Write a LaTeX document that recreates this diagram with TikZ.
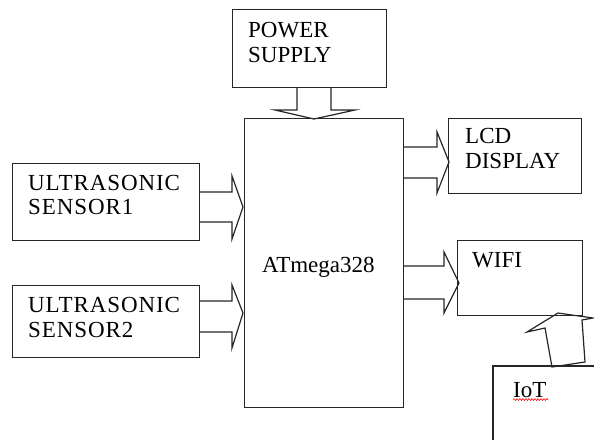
\documentclass[tikz,border=0pt]{standalone}
\usepackage{fontspec}
\setmainfont{Liberation Serif}
\usetikzlibrary{decorations.pathmorphing}
\begin{document}
\begin{tikzpicture}[x=1pt,y=-1pt,
  box/.style={draw=black!85,line width=1.2pt,inner sep=0pt,anchor=north west},
  lbl/.style={anchor=base west,inner sep=0pt,font=\fontsize{23}{27}\selectfont,align=left},
  wide/.style={font=\fontsize{23}{27}\selectfont\addfontfeature{LetterSpace=4}},
  barrow/.style={draw=black!85,line width=1.2pt,line join=miter}]
\useasboundingbox (0,0) rectangle (594,439);
% boxes
\node[box,minimum width=154pt,minimum height=78pt] (ps) at (232,9) {};
\node[box,minimum width=159pt,minimum height=289pt] (mcu) at (244,118) {};
\node[box,minimum width=133pt,minimum height=75pt] (lcd) at (448,118) {};
\node[box,minimum width=125pt,minimum height=75pt] (wifi) at (457,240) {};
\node[box,minimum width=187pt,minimum height=77pt] (us1) at (12,163) {};
\node[box,minimum width=187pt,minimum height=72pt] (us2) at (12,285) {};
\draw[barrow] (493,440) -- (493,366) -- (595,366);
\coordinate (iot) at (493,366);
% labels
\node[lbl] (tps) at (248,37) {POWER};
\node[lbl] (tps2) at (248,62) {SUPPLY};
\node[lbl] (tmcu) at (262,272) {ATmega328};
\node[lbl] (tlcd) at (465,143) {LCD};
\node[lbl] (tlcd2) at (465,168) {DISPLAY};
\node[lbl] (twifi) at (472,267) {WIFI};
\node[lbl,wide] (tus1) at (28,190) {ULTRASONIC};
\node[lbl,wide] (tus1b) at (28,214) {SENSOR1};
\node[lbl,wide] (tus2) at (28,312) {ULTRASONIC};
\node[lbl,wide] (tus2b) at (28,337) {SENSOR2};
\node[lbl] (tiot) at (513,397) {IoT};
\draw[red,line width=0.6pt,decorate,decoration={snake,amplitude=0.9pt,segment length=3pt}] (tiot.base west)++(0,2.5) -- ++(35,0);
% block arrows
\draw[barrow] (297,87) -- (297,110) -- (275,110) -- (314,119) -- (355,110) -- (331,110) -- (331,87);
\draw[barrow] (403,147) -- (437,147) -- (437,132) -- (449,162) -- (437,193) -- (437,178) -- (403,178);
\draw[barrow] (403,266) -- (444,266) -- (444,252) -- (459,283) -- (444,313) -- (444,299) -- (403,299);
\draw[barrow] (199,192) -- (232,192) -- (232,176) -- (243,207) -- (232,239) -- (232,222) -- (199,222);
\draw[barrow] (199,301) -- (232,301) -- (232,285) -- (243,313) -- (232,348) -- (232,332) -- (199,332);
\draw[barrow] (552,367) -- (545,328) -- (527,332) -- (558,313) -- (593,318) -- (582,320) -- (585,362) -- cycle;
\end{tikzpicture}
\end{document}
